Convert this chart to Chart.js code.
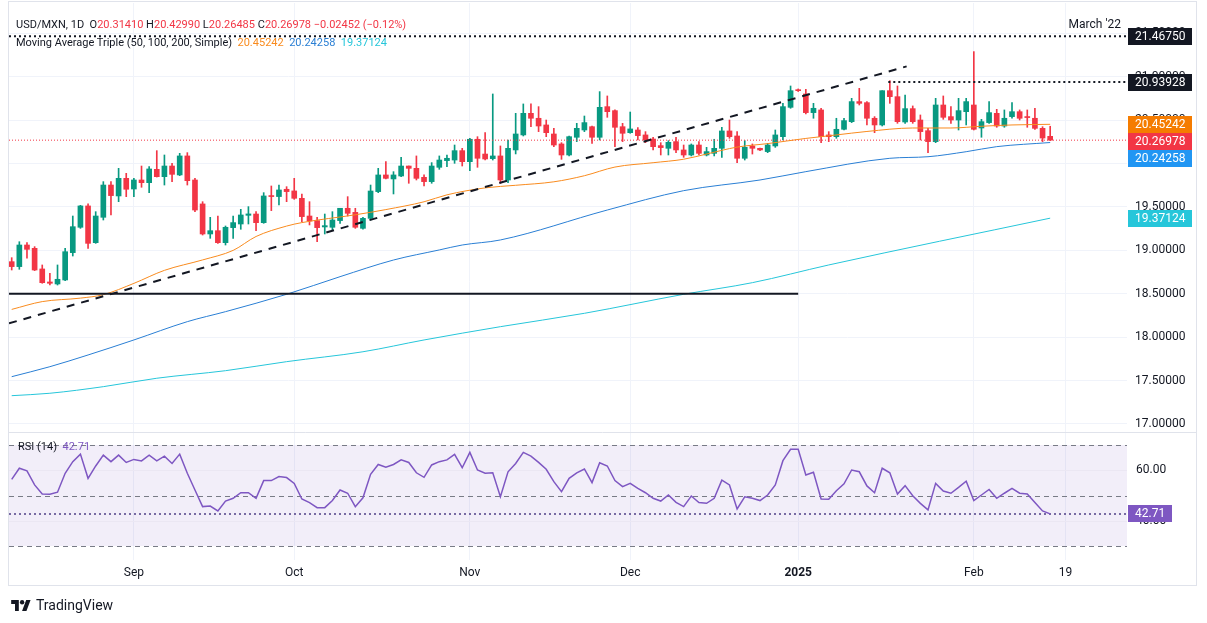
<!DOCTYPE html>
<html>
<head>
<meta charset="utf-8">
<title>USD/MXN 1D</title>
<script src="https://cdn.jsdelivr.net/npm/chart.js@4.4.1/dist/chart.umd.min.js"></script>
<style>
  html, body { margin: 0; padding: 0; background: #fff; }
  #wrap { position: relative; width: 1207px; height: 623px; overflow: hidden;
          font-family: Roboto, "Noto Sans", sans-serif; color: #131722; }
  #chart { position: absolute; left: 0; top: 0; }
  .lbl { position: absolute; white-space: nowrap; font-size: 11px; line-height: 14px; }
  #logo { position: absolute; left: 10px; top: 597px; display: flex; align-items: center;
          gap: 4px; font-size: 14px; color: #131722; }
</style>
</head>
<body>
<div id="wrap">
  <canvas id="chart" width="1207" height="623"></canvas>
  <div class="lbl" id="head1" style="left:16px; top:18px"></div>
  <div class="lbl" id="head2" style="left:16px; top:36px"></div>
  <div class="lbl" id="rsiHead" style="left:18px; top:440px"></div>
  <div id="logo">
    <svg width="22" height="12" viewBox="0 0 36 22"><path d="M14 22H7V9H0V2h14z" fill="#131722"/><circle cx="20" cy="6" r="4" fill="#131722"/><path d="M28 22h-8l7.5-20h8z" fill="#131722"/></svg>
    <span>TradingView</span>
  </div>
</div>
<script>
const GREEN = "#089981", RED = "#f23645";
const ORANGE = "#f98b1e", BLUE = "#2a7fd4", CYAN = "#26c6da", PURPLE = "#7e57c2";

// daily candles, Aug 9 2024 .. Feb 17 2025 (index = bar number)
const opens = [
  18.870, 18.813, 19.062, 19.024, 18.786, 18.636, 18.613, 18.659, 18.974, 19.266,
  19.512, 19.089, 19.381, 19.753, 19.627, 19.830, 19.707, 19.811, 19.780, 19.934,
  19.849, 19.972, 19.869, 20.088, 19.811, 19.535, 19.189, 19.227, 19.089, 19.262,
  19.304, 19.404, 19.419, 19.319, 19.627, 19.620, 19.704, 19.685, 19.600, 19.396,
  19.343, 19.270, 19.266, 19.343, 19.485, 19.438, 19.254, 19.369, 19.677, 19.869,
  19.823, 19.857, 19.972, 19.945, 19.842, 19.792, 19.957, 20.034, 20.041, 20.149,
  20.022, 20.280, 20.110, 20.057, 20.088, 19.811, 20.157, 20.330, 20.579, 20.522,
  20.445, 20.341, 20.226, 20.099, 20.303, 20.387, 20.425, 20.303, 20.656, 20.610,
  20.425, 20.356, 20.387, 20.330, 20.283, 20.207, 20.176, 20.253, 20.157, 20.099,
  20.214, 20.099, 20.118, 20.176, 20.376, 20.318, 20.061, 20.203, 20.176, 20.138,
  20.203, 20.310, 20.648, 20.848, 20.802, 20.587, 20.618, 20.330, 20.310, 20.395,
  20.483, 20.714, 20.702, 20.522, 20.445, 20.840, 20.771, 20.479, 20.633, 20.502,
  20.379, 20.253, 20.675, 20.541, 20.502, 20.598, 20.675, 20.410, 20.472, 20.579,
  20.433, 20.541, 20.598, 20.541, 20.522, 20.406, 20.3141
];
const highs = [
  18.916, 19.100, 19.089, 19.043, 18.832, 18.736, 18.832, 19.024, 19.396, 19.519,
  19.535, 19.446, 19.792, 19.792, 19.945, 19.888, 19.830, 19.972, 19.965, 20.149,
  20.099, 20.003, 20.118, 20.126, 19.830, 19.561, 19.381, 19.396, 19.281, 19.396,
  19.473, 19.504, 19.446, 19.665, 19.742, 19.753, 19.734, 19.830, 19.650, 19.561,
  19.381, 19.419, 19.446, 19.485, 19.619, 19.485, 19.381, 19.753, 19.945, 20.022,
  19.907, 20.072, 19.972, 20.088, 19.869, 20.011, 20.088, 20.099, 20.214, 20.176,
  20.291, 20.310, 20.356, 20.802, 20.203, 20.272, 20.579, 20.687, 20.687, 20.656,
  20.502, 20.406, 20.241, 20.318, 20.464, 20.548, 20.433, 20.829, 20.779, 20.618,
  20.464, 20.594, 20.414, 20.368, 20.303, 20.241, 20.264, 20.303, 20.214, 20.226,
  20.253, 20.187, 20.280, 20.418, 20.502, 20.368, 20.264, 20.226, 20.180, 20.233,
  20.387, 20.694, 20.894, 20.860, 20.856, 20.694, 20.637, 20.368, 20.522, 20.522,
  20.752, 20.867, 20.713, 20.541, 20.840, 20.955, 20.894, 20.790, 20.664, 20.560,
  20.406, 20.752, 20.779, 20.656, 20.752, 20.752, 21.290, 20.510, 20.714, 20.625,
  20.618, 20.702, 20.618, 20.618, 20.637, 20.425, 20.4299
];
const lows = [
  18.774, 18.782, 18.909, 18.767, 18.621, 18.601, 18.601, 18.651, 18.935, 19.254,
  19.024, 19.081, 19.350, 19.408, 19.561, 19.619, 19.619, 19.727, 19.665, 19.845,
  19.753, 19.792, 19.861, 19.753, 19.446, 19.177, 19.139, 19.080, 19.062, 19.139,
  19.243, 19.304, 19.227, 19.312, 19.458, 19.523, 19.561, 19.588, 19.331, 19.293,
  19.100, 19.189, 19.227, 19.312, 19.396, 19.254, 19.243, 19.350, 19.665, 19.823,
  19.650, 19.850, 19.773, 19.811, 19.742, 19.773, 19.934, 19.965, 20.003, 19.972,
  19.919, 19.957, 20.041, 20.041, 19.773, 19.780, 20.111, 20.318, 20.426, 20.368,
  20.310, 20.195, 20.049, 20.088, 20.253, 20.368, 20.233, 20.272, 20.533, 20.195,
  20.253, 20.349, 20.272, 20.241, 20.157, 20.099, 20.099, 20.126, 20.072, 20.088,
  20.099, 20.088, 20.088, 20.072, 20.291, 20.011, 20.041, 20.110, 20.150, 20.126,
  20.187, 20.272, 20.637, 20.830, 20.572, 20.522, 20.241, 20.253, 20.291, 20.387,
  20.472, 20.675, 20.445, 20.356, 20.433, 20.694, 20.464, 20.464, 20.464, 20.272,
  20.126, 20.241, 20.510, 20.464, 20.387, 20.445, 20.387, 20.303, 20.464, 20.418,
  20.418, 20.522, 20.502, 20.418, 20.395, 20.253, 20.26485
];
const closes = [
  18.813, 19.062, 19.012, 18.774, 18.628, 18.621, 18.667, 18.985, 19.273, 19.512,
  19.081, 19.396, 19.753, 19.631, 19.830, 19.704, 19.811, 19.780, 19.938, 19.849,
  19.972, 19.876, 20.088, 19.803, 19.465, 19.189, 19.227, 19.089, 19.266, 19.320,
  19.408, 19.420, 19.319, 19.627, 19.620, 19.696, 19.677, 19.600, 19.389, 19.339,
  19.262, 19.285, 19.350, 19.485, 19.427, 19.266, 19.369, 19.684, 19.869, 19.830,
  19.869, 19.972, 19.945, 19.830, 19.792, 19.972, 20.041, 20.061, 20.149, 20.022,
  20.280, 20.061, 20.053, 20.088, 19.811, 20.176, 20.341, 20.579, 20.522, 20.433,
  20.356, 20.214, 20.099, 20.310, 20.406, 20.472, 20.303, 20.648, 20.598, 20.418,
  20.349, 20.399, 20.322, 20.272, 20.195, 20.184, 20.245, 20.157, 20.099, 20.214,
  20.118, 20.138, 20.176, 20.376, 20.310, 20.061, 20.187, 20.176, 20.157, 20.214,
  20.330, 20.656, 20.840, 20.840, 20.587, 20.637, 20.310, 20.310, 20.395, 20.495,
  20.714, 20.694, 20.522, 20.445, 20.840, 20.771, 20.483, 20.633, 20.483, 20.368,
  20.253, 20.675, 20.533, 20.502, 20.610, 20.714, 20.395, 20.483, 20.587, 20.433,
  20.522, 20.598, 20.522, 20.530, 20.406, 20.2943, 20.26978
];
const rsi14 = [
  56.4, 60.8, 59.8, 54.2, 50.6, 50.5, 51.3, 58.8, 63.4, 66.4,
  56.8, 61.7, 66.0, 63.4, 66.0, 63.1, 64.3, 63.7, 66.0, 63.7,
  65.6, 62.7, 66.4, 58.8, 52.2, 45.6, 45.8, 43.9, 47.8, 48.9,
  51.1, 51.1, 48.9, 55.9, 55.9, 57.5, 57.1, 54.8, 48.6, 47.2,
  45.2, 45.2, 48.0, 52.2, 50.9, 45.6, 49.1, 58.4, 62.3, 61.2,
  62.3, 64.1, 63.1, 59.0, 57.2, 62.1, 63.4, 64.1, 66.3, 61.0,
  67.1, 60.1, 58.8, 59.0, 49.5, 59.4, 62.7, 67.1, 65.6, 63.1,
  60.4, 55.5, 51.5, 56.8, 59.0, 60.5, 55.1, 63.0, 61.7, 55.9,
  53.5, 54.8, 52.8, 51.1, 48.9, 47.8, 50.2, 47.3, 45.6, 49.8,
  47.2, 46.9, 48.9, 56.1, 54.2, 44.7, 49.5, 48.9, 48.0, 50.2,
  54.2, 63.8, 68.3, 68.3, 58.1, 59.2, 48.6, 48.5, 51.9, 54.6,
  60.1, 59.4, 53.8, 51.1, 60.8, 59.0, 50.6, 53.9, 49.9, 46.9,
  44.3, 54.8, 51.8, 50.9, 53.2, 55.7, 48.0, 50.2, 52.4, 48.9,
  50.9, 52.8, 50.9, 50.6, 47.2, 43.9, 42.71
];

// moving averages at these bar numbers
const ma50K  = [0, 4, 9, 12, 16, 20, 25, 29, 32, 36, 38, 45, 49, 54, 57, 62, 66, 71, 75, 79, 84, 88, 91, 95, 99, 104, 108, 112, 118, 123, 127, 131, 136];
const ma50V  = [18.32, 18.41, 18.45, 18.49, 18.62, 18.77, 18.89, 19.00, 19.16, 19.28, 19.32, 19.41, 19.47, 19.56, 19.64, 19.72, 19.75, 19.79, 19.86, 19.96, 20.01, 20.05, 20.11, 20.19, 20.23, 20.29, 20.33, 20.37, 20.41, 20.41, 20.43, 20.445, 20.45242];
const ma100K = [0, 5, 10, 16, 23, 28, 36, 43, 50, 56, 59, 64, 78, 88, 98, 104, 115, 120, 125, 129, 136];
const ma100V = [17.545, 17.66, 17.795, 17.968, 18.179, 18.294, 18.494, 18.697, 18.889, 19.005, 19.062, 19.12, 19.465, 19.688, 19.811, 19.907, 20.061, 20.079, 20.137, 20.195, 20.24258];
const ma200K = [0, 5, 12, 19, 28, 36, 46, 54, 64, 75, 88, 97, 107, 136];
const ma200V = [17.326, 17.354, 17.43, 17.527, 17.614, 17.718, 17.832, 17.968, 18.121, 18.275, 18.494, 18.628, 18.832, 19.37124];

// drawings
const trendK = [-0.35, 117.2], trendP = [18.16, 21.12];
const supportK = [-0.35, 103], supportP = 18.5;
const resistK = 114.8, resistP = 20.93928;
const marchHigh = 21.4675;

const monthIdx = [16, 37, 60, 81, 103, 126, 138];
const monthLbl = ["Sep", "Oct", "Nov", "Dec", "2025", "Feb", "19"];
const priceTicks = [17, 17.5, 18, 18.5, 19, 19.5, 20, 20.5, 21, 21.5];
const rsiBands = [70, 50, 30];
const rsiGrid = [60, 40];

const X_MIN = -0.354, X_MAX = 146.06;
const n = closes.length;
const last = n - 1;
const lastClose = closes[last];
const idx = closes.map((_, i) => i);
const candleCol = idx.map(i => closes[i] >= opens[i] ? GREEN : RED);

// legend text
const f5 = v => v.toFixed(5);
const chg = lastClose - closes[last - 1];
const pct = chg / closes[last - 1] * 100;
const neg = s => s.replace("-", "\u2212");
const red = s => `<span style="color:${RED}">${s}</span>`;
document.getElementById("head1").innerHTML =
  `USD/MXN, 1D&nbsp; O${red(f5(opens[last]))} H${red(f5(highs[last]))} L${red(f5(lows[last]))} C${red(f5(lastClose))} ` +
  red(neg(chg.toFixed(5)) + " (" + neg(pct.toFixed(2)) + "%)");
document.getElementById("head2").innerHTML =
  `Moving Average Triple (50, 100, 200, Simple)&nbsp; <span style="color:${ORANGE}">${f5(ma50V[ma50V.length - 1])}</span>&nbsp; ` +
  `<span style="color:${BLUE}">${f5(ma100V[ma100V.length - 1])}</span>&nbsp; <span style="color:${CYAN}">${f5(ma200V[ma200V.length - 1])}</span>`;
document.getElementById("rsiHead").innerHTML =
  `RSI (14)&nbsp; <span style="color:${PURPLE}">${rsi14[last].toFixed(2)}</span>`;

const pts = (ks, vs) => ks.map((k, i) => ({ x: k, y: vs[i] }));
const flat = (k0, k1, v) => [{ x: k0, y: v }, { x: k1, y: v }];

function tag(ctx, x, w, y, text, bg, fg) {
  ctx.fillStyle = bg;
  ctx.fillRect(x, Math.round(y - 8.5), w, 17);
  ctx.fillStyle = fg;
  ctx.textAlign = "left";
  ctx.textBaseline = "middle";
  ctx.fillText(text, x + 7, y + 0.5);
}

const panes = {
  id: "panes",
  beforeDatasetsDraw(chart) {
    const { ctx, chartArea: a, scales } = chart;
    const r = scales.rsi;
    ctx.save();
    const y70 = r.getPixelForValue(rsiBands[0]), y30 = r.getPixelForValue(rsiBands[2]);
    ctx.fillStyle = "rgba(126,87,194,0.1)";
    ctx.fillRect(a.left, y70, a.width, y30 - y70);
    ctx.lineWidth = 1;
    ctx.strokeStyle = "#ebe7f3";
    rsiGrid.forEach(v => {
      const yy = Math.round(r.getPixelForValue(v)) + 0.5;
      ctx.beginPath(); ctx.moveTo(a.left, yy); ctx.lineTo(a.right, yy); ctx.stroke();
    });
    ctx.strokeStyle = "#787b86";
    ctx.setLineDash([5, 4]);
    rsiBands.forEach(v => {
      const yy = Math.round(r.getPixelForValue(v)) + 0.5;
      ctx.beginPath(); ctx.moveTo(a.left, yy); ctx.lineTo(a.right, yy); ctx.stroke();
    });
    ctx.setLineDash([]);
    ctx.strokeStyle = "#e0e3eb";
    const ys = Math.round(r.getPixelForValue(74.8)) - 0.5;
    ctx.beginPath(); ctx.moveTo(a.left, ys); ctx.lineTo(1196, ys); ctx.stroke();
    ctx.restore();
  },
  afterDraw(chart) {
    const { ctx, chartArea: a, scales } = chart;
    const y = scales.y, r = scales.rsi;
    ctx.save();
    ctx.font = "12px Roboto, 'Noto Sans', sans-serif";

    // March '22 note
    ctx.fillStyle = "#131722";
    ctx.textAlign = "right";
    ctx.textBaseline = "middle";
    ctx.fillText("March '22", a.right - 6, y.getPixelForValue(marchHigh) - 11);

    const tags = [
      { v: marchHigh, bg: "#131722" },
      { v: resistP, bg: "#131722" },
      { v: ma50V[ma50V.length - 1], bg: "#f57c00" },
      { v: lastClose, bg: RED },
      { v: ma100V[ma100V.length - 1], bg: "#2196f3" },
      { v: ma200V[ma200V.length - 1], bg: CYAN },
    ].map(t => ({ ...t, p: y.getPixelForValue(t.v) })).sort((p, q) => p.p - q.p);
    let prev = -1e9;
    tags.forEach(t => {
      t.p = Math.max(t.p, prev + 17);
      prev = t.p;
      tag(ctx, a.right + 1, 64, t.p, f5(t.v), t.bg, "#ffffff");
    });

    // rsi scale
    ctx.fillStyle = "#131722";
    ctx.textAlign = "left";
    ctx.fillText("60.00", a.right + 9, r.getPixelForValue(60));
    ctx.fillText("40.00", a.right + 9, r.getPixelForValue(40));
    tag(ctx, a.right + 1, 44, r.getPixelForValue(rsi14[last]), rsi14[last].toFixed(2), PURPLE, "#ffffff");

    // frame
    ctx.strokeStyle = "#e0e3eb";
    ctx.lineWidth = 1;
    ctx.strokeRect(8.5, 1.5, 1188, 584);
    ctx.restore();
  },
};

new Chart(document.getElementById("chart"), {
  data: {
    datasets: [
      { type: "line", data: pts(ma50K, ma50V), borderColor: ORANGE, borderWidth: 1, pointRadius: 0, cubicInterpolationMode: "monotone", order: 1 },
      { type: "line", data: pts(ma100K, ma100V), borderColor: BLUE, borderWidth: 1, pointRadius: 0, cubicInterpolationMode: "monotone", order: 1 },
      { type: "line", data: pts(ma200K, ma200V), borderColor: CYAN, borderWidth: 1, pointRadius: 0, cubicInterpolationMode: "monotone", order: 1 },
      { type: "line", data: pts(trendK, trendP), borderColor: "#131722", borderWidth: 2, borderDash: [8, 7], pointRadius: 0, order: 0 },
      { type: "line", data: flat(supportK[0], supportK[1], supportP), borderColor: "#131722", borderWidth: 2, pointRadius: 0, order: 0 },
      { type: "line", data: flat(resistK, X_MAX, resistP), borderColor: "#131722", borderWidth: 2, borderDash: [2, 3], pointRadius: 0, order: 0 },
      { type: "line", data: flat(X_MIN, X_MAX, marchHigh), borderColor: "#131722", borderWidth: 2, borderDash: [2, 3], pointRadius: 0, order: 0 },
      { type: "line", data: flat(X_MIN, X_MAX, lastClose), borderColor: RED, borderWidth: 1, borderDash: [1, 2], pointRadius: 0, order: 3 },
      { type: "bar", data: idx.map(i => ({ x: i, y: [lows[i], highs[i]] })), backgroundColor: candleCol, barThickness: 1, grouped: false, order: 5 },
      { type: "bar", data: idx.map(i => ({ x: i, y: [opens[i], closes[i]] })), backgroundColor: candleCol, barThickness: 5, minBarLength: 1, grouped: false, order: 4 },
      { type: "line", yAxisID: "rsi", data: idx.map(i => ({ x: i, y: rsi14[i] })), borderColor: PURPLE, borderWidth: 1.5, pointRadius: 0, order: 1 },
      { type: "line", yAxisID: "rsi", data: flat(X_MIN, X_MAX, rsi14[last]), borderColor: "#4f3f86", borderWidth: 1.5, borderDash: [2, 3], pointRadius: 0, order: 2 },
    ],
  },
  options: {
    responsive: false,
    animation: false,
    layout: { padding: { left: 9, top: 3, right: 0, bottom: 0 } },
    plugins: { legend: { display: false }, tooltip: { enabled: false } },
    scales: {
      x: {
        type: "linear", min: X_MIN, max: X_MAX, offset: false,
        afterBuildTicks: s => { s.ticks = monthIdx.map(v => ({ value: v })); },
        afterFit: s => { s.height = 63; s.paddingLeft = 0; s.paddingRight = 0; },
        ticks: {
          autoSkip: false, maxRotation: 0, padding: 6, color: "#131722",
          callback: v => monthLbl[monthIdx.indexOf(v)],
          font: c => ({ family: "Roboto, 'Noto Sans', sans-serif", size: 12, weight: c.tick && c.tick.label === "2025" ? "bold" : "normal" }),
        },
        grid: { color: "#f0f3fa", drawTicks: false, offset: false },
        border: { display: false },
      },
      y: {
        position: "right", min: 15.433, max: 21.85,
        afterBuildTicks: s => { s.ticks = priceTicks.map(v => ({ value: v })); },
        afterFit: s => { s.width = 80; s.paddingTop = 0; s.paddingBottom = 0; },
        ticks: { padding: 8, color: "#131722", font: { family: "Roboto, 'Noto Sans', sans-serif", size: 12 }, callback: v => v.toFixed(5) },
        grid: { color: "#f0f3fa", drawTicks: false },
        border: { display: false },
      },
      rsi: { position: "right", display: false, min: 24.46, max: 245.06 },
    },
  },
  plugins: [panes],
});
</script>
</body>
</html>
